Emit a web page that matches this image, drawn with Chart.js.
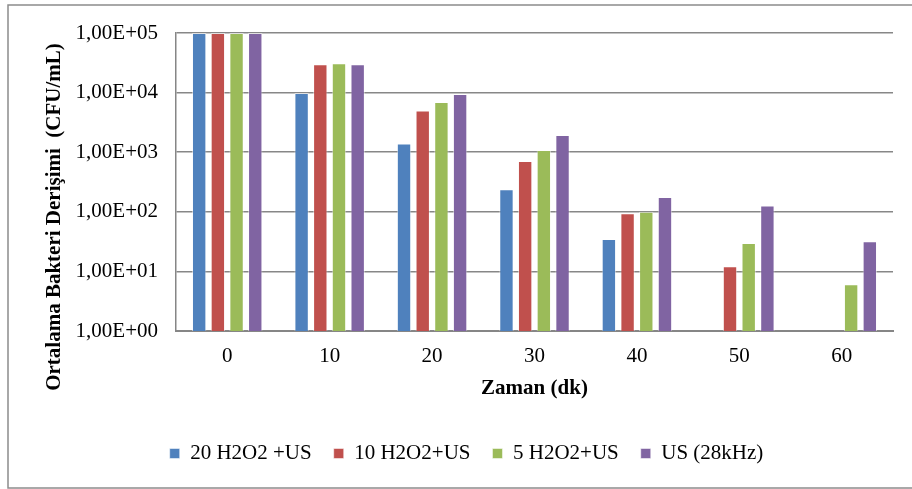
<!DOCTYPE html>
<html lang="tr">
<head>
  <meta charset="UTF-8" />
  <title>Ortalama Bakteri Derişimi</title>
  <script src="https://cdn.jsdelivr.net/npm/chart.js"></script>
  <style>
    html, body { margin: 0; padding: 0; background: #fff; }
    #wrap { width: 912px; height: 489px; }
  </style>
</head>
<body>
  <div id="wrap"><canvas id="chart" width="912" height="489"></canvas></div>

  <script>
    // Data (CFU/mL, log axis)
    const categories = ['0', '10', '20', '30', '40', '50', '60'];
    const s20H2O2 = [100000, 9800, 1400, 240, 35, null, null];
    const s10H2O2 = [100000, 29800, 5000, 710, 95, 12.2, null];
    const s5H2O2  = [100000, 31000, 6950, 1090, 100, 30, 6.1];
    const sUS     = [100000, 29800, 9500, 1940, 177, 128, 32];
    const yTicks = [1, 10, 100, 1000, 10000, 100000];
    const seriesNames = ['20 H2O2 +US', '10 H2O2+US', '5 H2O2+US', 'US (28kHz)'];
    const seriesColors = ['#4F81BD', '#C0504D', '#9BBB59', '#8064A2'];

    const serif = "'Liberation Serif', 'Times New Roman', serif";

    // "1,00E+05" style labels
    function excelSci(v) {
      const exp = Math.round(Math.log10(v));
      const mant = (v / Math.pow(10, exp)).toFixed(2).replace('.', ',');
      return mant + 'E+' + String(exp).padStart(2, '0');
    }

    // outer frame, rotated y title, legend nudged right like the original
    const framePlugin = {
      id: 'frame',
      afterLayout(chart) {
        chart.legend.left += 20;
        chart.legend.right += 20;
      },
      beforeDraw(chart) {
        const ctx = chart.ctx;
        ctx.save();
        ctx.fillStyle = '#fff';
        ctx.fillRect(0, 0, chart.width, chart.height);
        ctx.strokeStyle = '#8c8c8c';
        ctx.lineWidth = 1.5;
        ctx.strokeRect(8, 5, 910, 483);
        ctx.restore();
      },
      afterDraw(chart) {
        const ctx = chart.ctx;
        ctx.save();
        ctx.translate(55, 217);
        ctx.rotate(-Math.PI / 2);
        ctx.font = 'bold 21px ' + serif;
        ctx.fillStyle = '#000';
        ctx.textAlign = 'center';
        ctx.textBaseline = 'middle';
        ctx.fillText('Ortalama Bakteri Derişimi  (CFU/mL)', 0, 0);
        ctx.restore();
      }
    };

    const datasets = [s20H2O2, s10H2O2, s5H2O2, sUS].map((d, i) => ({
      label: seriesNames[i],
      data: d,
      backgroundColor: seriesColors[i],
      borderColor: 'rgba(255,255,255,0.5)',
      borderWidth: 1,
      categoryPercentage: 0.73,
      barPercentage: 0.77
    }));

    new Chart(document.getElementById('chart'), {
      type: 'bar',
      data: { labels: categories, datasets: datasets },
      plugins: [framePlugin],
      options: {
        responsive: false,
        animation: false,
        layout: { padding: { top: 33, right: 19, bottom: 15, left: 0 } },
        scales: {
          x: {
            grid: { display: false },
            border: { display: true, color: '#868686', width: 2 },
            ticks: { color: '#000', padding: 5, font: { family: serif, size: 21 } },
            title: {
              display: true,
              text: 'Zaman (dk)',
              color: '#000',
              padding: { top: 0, bottom: 20 },
              font: { family: serif, size: 21, weight: 'bold' }
            },
            afterFit(scale) { scale.height = 90; }
          },
          y: {
            type: 'logarithmic',
            min: 1,
            max: 100000,
            grid: { color: '#878787', lineWidth: 1.5, drawTicks: false },
            border: { display: true, color: '#868686', width: 1.5 },
            afterBuildTicks(scale) { scale.ticks = yTicks.map(v => ({ value: v })); },
            ticks: {
              color: '#000',
              padding: 18,
              font: { family: serif, size: 21 },
              callback: v => excelSci(v)
            },
            afterFit(scale) { scale.width = 176; }
          }
        },
        plugins: {
          legend: {
            position: 'bottom',
            labels: {
              color: '#000',
              boxWidth: 10,
              boxHeight: 10,
              padding: 22,
              font: { family: serif, size: 21 }
            }
          },
          tooltip: { enabled: false }
        }
      }
    });
  </script>
</body>
</html>
